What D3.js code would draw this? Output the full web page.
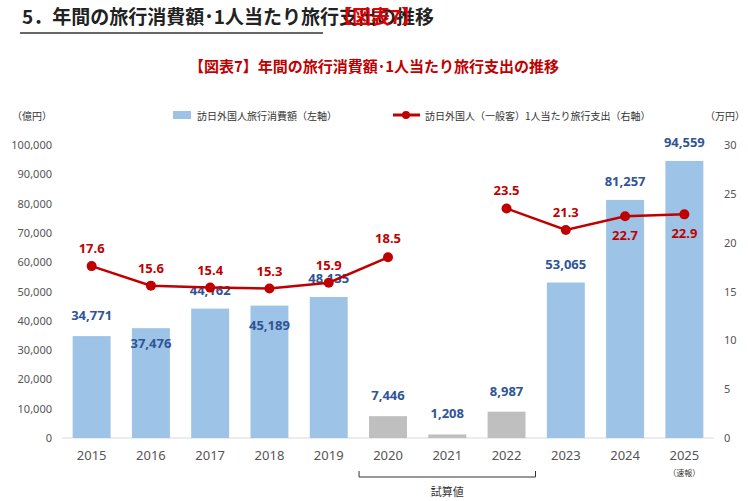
<!DOCTYPE html>
<html><head><meta charset="utf-8">
<script src="https://cdn.jsdelivr.net/npm/d3@7"></script>
<style>body{margin:0;background:#fff;font-family:"Noto Sans CJK JP","Noto Sans",sans-serif}</style>
</head><body><svg width="748" height="501"></svg>
<script>
const years = ["2015","2016","2017","2018","2019","2020","2021","2022","2023","2024","2025"];
const spending = [34771,37476,44162,45189,48135,7446,1208,8987,53065,81257,94559];
const perPerson = [17.6,15.6,15.4,15.3,15.9,18.5,null,23.5,21.3,22.7,22.9];
const estimated = ["2020","2021","2022"];
const leftTicks = [0,10000,20000,30000,40000,50000,60000,70000,80000,90000,100000];
const rightTicks = [0,5,10,15,20,25,30];

const svg = d3.select("svg");
const plotL = 62, plotR = 714, plotT = 145, plotB = 438;
const x = d3.scaleBand().domain(years).range([plotL, plotR]).paddingInner(0.36).paddingOuter(0.18);
const yL = d3.scaleLinear().domain([0, 100000]).range([plotB, plotT]);
const yR = d3.scaleLinear().domain([0, 30]).range([plotB, plotT]);
const fmt = d3.format(",");

// titles
svg.append("text").attr("x", 22).attr("y", 24).attr("font-size", 19).attr("font-weight", "bold").attr("fill", "#222")
  .text("5．年間の旅行消費額･1人当たり旅行支出の推移");
svg.append("text").attr("x", 333).attr("y", 24).attr("font-size", 19).attr("font-weight", "bold").attr("fill", "#e00000").text("【図表7】");
svg.append("line").attr("x1", 20).attr("x2", 323).attr("y1", 33).attr("y2", 33).attr("stroke", "#333").attr("stroke-width", 1.5);
svg.append("text").attr("x", 374).attr("y", 72).attr("text-anchor", "middle").attr("font-size", 15).attr("font-weight", "bold").attr("fill", "#c00000")
  .text("【図表7】年間の旅行消費額･1人当たり旅行支出の推移");

// units & legend
svg.append("text").attr("x", 12).attr("y", 120).attr("font-size", 10).attr("fill", "#333").text("（億円）");
svg.append("text").attr("x", 705).attr("y", 120).attr("font-size", 10).attr("fill", "#333").text("（万円）");
svg.append("rect").attr("x", 173).attr("y", 111).attr("width", 18).attr("height", 8).attr("fill", "#9dc3e6");
svg.append("text").attr("x", 197).attr("y", 120).attr("font-size", 10).attr("fill", "#333").text("訪日外国人旅行消費額（左軸）");
svg.append("line").attr("x1", 393).attr("x2", 420).attr("y1", 115).attr("y2", 115).attr("stroke", "#c00000").attr("stroke-width", 3);
svg.append("circle").attr("cx", 406).attr("cy", 115).attr("r", 4).attr("fill", "#c00000");
svg.append("text").attr("x", 425).attr("y", 120).attr("font-size", 10).attr("fill", "#333").text("訪日外国人（一般客）1人当たり旅行支出（右軸）");

// axes
const axL = svg.append("g").attr("transform", `translate(${plotL},0)`)
  .call(d3.axisLeft(yL).tickValues(leftTicks).tickFormat(fmt).tickSize(0).tickPadding(10));
const axR = svg.append("g").attr("transform", `translate(${plotR},0)`)
  .call(d3.axisRight(yR).tickValues(rightTicks).tickSize(0).tickPadding(10));
const axB = svg.append("g").attr("transform", `translate(0,${plotB})`)
  .call(d3.axisBottom(x).tickSize(0).tickPadding(13));
[axL, axR, axB].forEach(a => {
  a.select(".domain").remove();
  a.selectAll("text").attr("font-family", "Noto Sans, sans-serif").attr("font-size", 11).attr("fill", "#555");
});
axB.selectAll("text").attr("font-size", 13);
svg.append("line").attr("x1", plotL).attr("x2", plotR).attr("y1", plotB).attr("y2", plotB).attr("stroke", "#d9d9d9");

// bars
svg.selectAll(".bar").data(years).join("rect")
  .attr("x", d => x(d)).attr("width", x.bandwidth())
  .attr("y", (d, i) => yL(spending[i])).attr("height", (d, i) => plotB - yL(spending[i]))
  .attr("fill", d => estimated.includes(d) ? "#bfbfbf" : "#9dc3e6");

// bar labels
const barLabelDy = [-16, 20, -14, 24, -14, -16, -16, -16, -14, -14, -14];
svg.selectAll(".bl").data(years).join("text")
  .attr("x", d => x(d) + x.bandwidth() / 2)
  .attr("y", (d, i) => yL(spending[i]) + barLabelDy[i])
  .attr("text-anchor", "middle").attr("font-family", "Noto Sans, sans-serif")
  .attr("font-size", 13).attr("font-weight", "bold").attr("fill", "#2f5597")
  .text((d, i) => fmt(spending[i]));

// line
const cx = d => x(d) + x.bandwidth() / 2;
const line = d3.line().defined(d => d.v !== null).x(d => cx(d.y)).y(d => yR(d.v));
const pts = years.map((y, i) => ({ y, v: perPerson[i] }));
svg.append("path").datum(pts).attr("d", line).attr("fill", "none").attr("stroke", "#c00000").attr("stroke-width", 2.5);
svg.selectAll(".pt").data(pts.filter(d => d.v !== null)).join("circle")
  .attr("cx", d => cx(d.y)).attr("cy", d => yR(d.v)).attr("r", 5).attr("fill", "#c00000");
const lineLabelDy = { "2015": -13, "2016": -13, "2017": -13, "2018": -13, "2019": -13, "2020": -14, "2022": -13, "2023": -13, "2024": 24, "2025": 24 };
svg.selectAll(".ll").data(pts.filter(d => d.v !== null)).join("text")
  .attr("x", d => cx(d.y)).attr("y", d => yR(d.v) + lineLabelDy[d.y])
  .attr("text-anchor", "middle").attr("font-family", "Noto Sans, sans-serif")
  .attr("font-size", 13).attr("font-weight", "bold").attr("fill", "#c00000")
  .text(d => d.v.toFixed(1));

// 試算値 bracket
const bx1 = x("2020") - 10, bx2 = x("2022") + x.bandwidth() + 10;
svg.append("path").attr("d", `M${bx1},471 V477 H${bx2} V471`).attr("fill", "none").attr("stroke", "#333");
svg.append("text").attr("x", (bx1 + bx2) / 2).attr("y", 496).attr("text-anchor", "middle").attr("font-size", 11).attr("fill", "#333").text("試算値");
svg.append("text").attr("x", cx("2025")).attr("y", 476).attr("text-anchor", "middle").attr("font-size", 8).attr("fill", "#333").text("（速報）");
</script></body></html>
